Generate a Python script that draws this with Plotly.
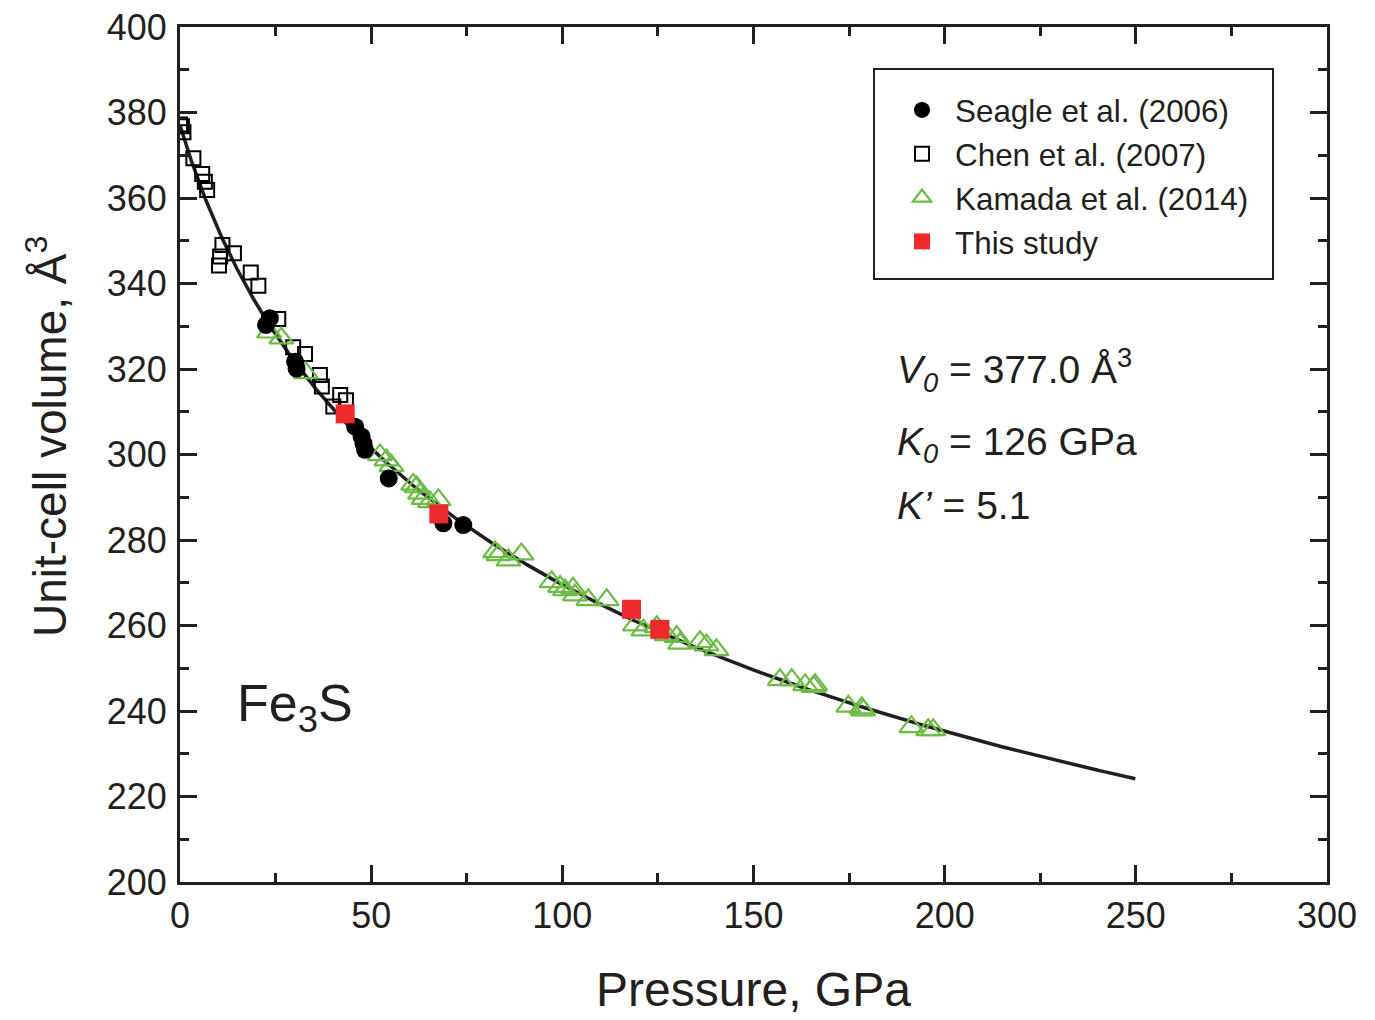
import numpy as np
import plotly.graph_objects as go

# Fe3S compression data: pressure (GPa) and unit-cell volume (Å^3)
seagle_p = [22.5, 23.5, 30.1, 30.5, 45.8, 47.5, 48.0, 48.4, 54.6, 68.9, 74.1]
seagle_v = [330.3, 331.9, 321.7, 320.1, 306.5, 304.2, 302.6, 301.1, 294.4, 283.9, 283.5]

chen_p = [0.0, 0.5, 0.9, 3.5, 5.8, 6.5, 7.1, 10.2, 10.5, 11.1, 14.1, 18.5, 20.5,
          25.7, 29.6, 32.7, 36.6, 37.1, 40.1, 41.9, 43.4]
chen_v = [377.2, 376.8, 375.4, 369.3, 365.6, 363.8, 361.9, 344.2, 346.3, 349.0, 347.1, 342.6, 339.5,
          331.7, 325.1, 323.5, 318.6, 315.9, 311.2, 313.9, 312.7]

kamada_p = [23.3, 26.5, 32.9, 52.3, 54.0, 55.3, 61.0, 61.9, 62.8, 63.7, 65.4, 67.6,
            82.4, 83.3, 85.9, 89.3, 97.2, 99.4, 100.7, 102.8, 103.3, 106.8, 111.6,
            119.0, 121.2, 124.7, 127.3, 129.9, 130.8, 136.0, 137.7, 140.3,
            156.9, 160.0, 163.5, 165.7, 166.1, 174.8, 178.3, 178.7, 191.3, 195.7, 197.0]
kamada_v = [328.6, 327.2, 319.1, 299.9, 298.7, 297.4, 293.0, 292.4, 290.9, 289.7, 288.9, 289.4,
            277.2, 276.5, 275.3, 276.7, 270.2, 269.1, 268.3, 268.7, 267.1, 266.0, 266.0,
            260.1, 258.9, 259.7, 257.8, 257.4, 255.8, 256.2, 255.4, 254.3,
            247.3, 247.3, 246.1, 245.7, 246.1, 241.1, 240.7, 240.2, 236.3, 235.6, 235.6]

study_p = [43.2, 67.7, 118.1, 125.5]
study_v = [309.5, 286.1, 263.8, 259.1]

# Third-order Birch-Murnaghan fit parameters
V0, K0, K1 = 377.0, 126.0, 5.1
P_MAX = 250.0

vol = np.linspace(V0, 215.0, 2000)
f = ((V0 / vol) ** (2.0 / 3.0) - 1.0) / 2.0
pres = 3.0 * K0 * f * (1.0 + 2.0 * f) ** 2.5 * (1.0 + 1.5 * (K1 - 4.0) * f)
keep = pres <= P_MAX
fit_p, fit_v = pres[keep], vol[keep]

INK = "#231f20"
GREEN = "#6cbb45"
RED = "#ec2a2b"
FONT = "Liberation Sans, Arial, sans-serif"

fig = go.Figure()
fig.add_trace(go.Scatter(x=fit_p, y=fit_v, mode="lines",
                         line=dict(color=INK, width=3.5), showlegend=False,
                         hoverinfo="skip"))
fig.add_trace(go.Scatter(x=chen_p, y=chen_v, mode="markers", name="Chen et al. (2007)",
                         legendrank=2,
                         marker=dict(symbol="square-open", size=14, color="black",
                                     line=dict(width=2, color="black"))))
fig.add_trace(go.Scatter(x=kamada_p, y=kamada_v, mode="markers", name="Kamada et al. (2014)",
                         legendrank=3,
                         marker=dict(symbol="triangle-up-open", size=21, color=GREEN,
                                     line=dict(width=2.2, color=GREEN))))
fig.add_trace(go.Scatter(x=seagle_p, y=seagle_v, mode="markers", name="Seagle et al. (2006)",
                         legendrank=1,
                         marker=dict(symbol="circle", size=18, color="black")))
fig.add_trace(go.Scatter(x=study_p, y=study_v, mode="markers", name="This study",
                         legendrank=4,
                         marker=dict(symbol="square", size=19, color=RED)))

axis_common = dict(
    showline=True, linewidth=3, linecolor=INK, mirror="ticks",
    ticks="inside", ticklen=17, tickwidth=2.5, tickcolor=INK,
    showgrid=False, zeroline=False, automargin=False,
    tickfont=dict(family=FONT, size=36, color=INK),
)

fig.update_xaxes(range=[0, 300], dtick=50, tick0=0,
                 minor=dict(dtick=25, ticklen=9, tickwidth=2.5, tickcolor=INK, ticks="inside"),
                 title=dict(text="Pressure, GPa", font=dict(family=FONT, size=48, color=INK),
                            standoff=38),
                 **axis_common)
fig.update_yaxes(range=[200, 400], dtick=20, tick0=200,
                 minor=dict(dtick=10, ticklen=9, tickwidth=2.5, tickcolor=INK, ticks="inside"),
                 ticklabelstandoff=3,
                 **axis_common)

# y-axis title, placed as a rotated annotation
fig.add_annotation(xref="paper", yref="paper", x=(47 - 180) / 1147, y=(882 - 437) / 855,
                   xanchor="center", yanchor="middle", textangle=-90, showarrow=False,
                   text="Unit-cell volume, Å<sup>3</sup>",
                   font=dict(family=FONT, size=46, color=INK))

# EOS parameters and sample label
ANN_X = (895 - 180) / 1147
fig.add_annotation(xref="paper", yref="paper", x=ANN_X, y=0.5985, xanchor="left", yanchor="middle",
                   text="<i>V<sub>0</sub></i> = 377.0 Å<sup>3</sup>", showarrow=False,
                   font=dict(family=FONT, size=39, color=INK))
fig.add_annotation(xref="paper", yref="paper", x=ANN_X, y=0.5115, xanchor="left", yanchor="middle",
                   text="<i>K<sub>0</sub></i> = 126 GPa", showarrow=False,
                   font=dict(family=FONT, size=39, color=INK))
fig.add_annotation(xref="paper", yref="paper", x=ANN_X, y=0.4405, xanchor="left", yanchor="middle",
                   text="<i>K’</i> = 5.1", showarrow=False,
                   font=dict(family=FONT, size=39, color=INK))
fig.add_annotation(xref="paper", yref="paper", x=0.1003, y=0.205, xanchor="center", yanchor="middle",
                   text="Fe<sub>3</sub>S", showarrow=False,
                   font=dict(family=FONT, size=52, color=INK))

# legend frame
fig.add_shape(type="rect", xref="paper", yref="paper",
              x0=(874 - 180) / 1147, x1=(1273 - 180) / 1147,
              y0=(882 - 279) / 855, y1=(882 - 69) / 855,
              line=dict(color=INK, width=2), fillcolor="white", layer="above")

fig.update_layout(
    width=1375, height=1020,
    margin=dict(l=180, r=48, t=27, b=138),
    paper_bgcolor="white", plot_bgcolor="white",
    font=dict(family=FONT, color=INK),
    legend=dict(x=(889 - 180) / 1147, y=(882 - 83) / 855, xanchor="left", yanchor="top",
                borderwidth=0, bgcolor="rgba(0,0,0,0)",
                font=dict(family=FONT, size=31.4, color=INK),
                itemwidth=56),
)

fig.write_html("out.html")
